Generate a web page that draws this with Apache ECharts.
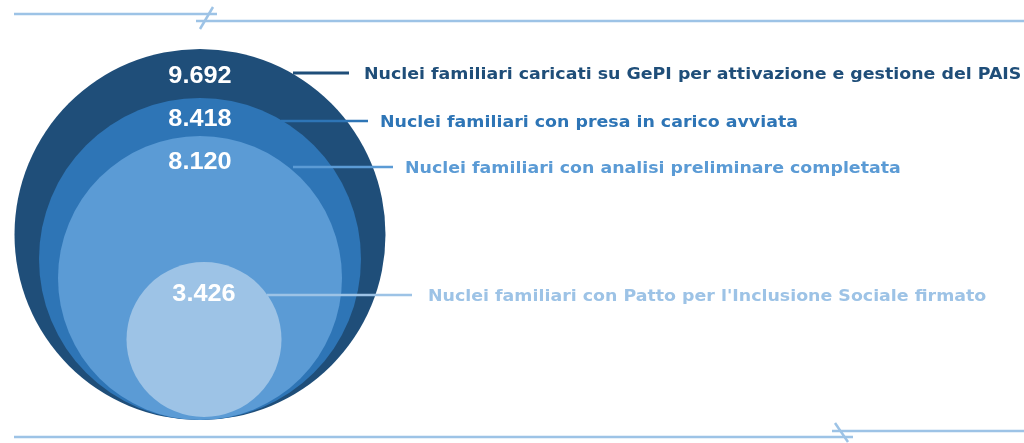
<!DOCTYPE html>
<html>
<head>
<meta charset="utf-8">
<title>Nuclei familiari</title>
<script src="https://cdn.jsdelivr.net/npm/echarts@6/dist/echarts.min.js"></script>
<style>
  html, body { margin: 0; padding: 0; background: #fff; }
  #chart { width: 1024px; height: 443px; }
</style>
</head>
<body>
<div id="chart"></div>
<script>
// dati: nuclei familiari per fase
var values = [9692, 8418, 8120, 3426];
var labels = [
  "Nuclei familiari caricati su GePI per attivazione e gestione del PAIS",
  "Nuclei familiari con presa in carico avviata",
  "Nuclei familiari con analisi preliminare completata",
  "Nuclei familiari con Patto per l'Inclusione Sociale firmato"
];

// stile / layout (pixel)
var colors = ["#1f4e79", "#2e75b6", "#5b9bd5", "#9dc3e6"];
var radius = [185.5, 161, 142, 77.5];
var base = [200, 420];          // punto in basso comune ai cerchi
var shiftX = [0, 0, 0, 4];
var lift = [0, 0, 0, 3];
var numOffset = [27.5, 22, 27, 32.5]; // distanza del numero dal bordo alto
var lineY = [73, 121, 167, 295];
var lineX0 = [293, 281, 293, 267];
var lineX1 = [349, 368, 393, 412];
var textX = [364, 380, 405, 428];
var TEXT_STRETCH = 1.16; // il testo originale e' molto spaziato
var NUM_STRETCH = 1.1;
var LINE_COLOR = "#9dc3e6";

// 9692 -> "9.692"
function fmt(v) {
  return String(v).replace(/\B(?=(\d{3})+(?!\d))/g, ".");
}

function ringCenter(api, i) {
  var r = radius[i];
  return api.coord([base[0] + shiftX[i], base[1] - lift[i] - r]);
}

var chart = echarts.init(document.getElementById("chart"), null, { renderer: "canvas" });

var data = values.map(function (v, i) { return [i, v]; });

chart.setOption({
  animation: false,
  grid: { left: 0, right: 0, top: 0, bottom: 0 },
  xAxis: { type: "value", min: 0, max: 1024, show: false },
  yAxis: { type: "value", min: 0, max: 443, inverse: true, show: false },
  graphic: [
    // linee decorative in alto
    { type: "line", shape: { x1: 14, y1: 14, x2: 217, y2: 14 }, style: { stroke: LINE_COLOR, lineWidth: 2.5 } },
    { type: "line", shape: { x1: 196, y1: 21, x2: 1024, y2: 21 }, style: { stroke: LINE_COLOR, lineWidth: 2.5 } },
    { type: "line", shape: { x1: 200, y1: 29, x2: 213, y2: 7 }, style: { stroke: LINE_COLOR, lineWidth: 2.5 } },
    // linee decorative in basso
    { type: "line", shape: { x1: 14, y1: 437, x2: 853, y2: 437 }, style: { stroke: LINE_COLOR, lineWidth: 2.5 } },
    { type: "line", shape: { x1: 832, y1: 431, x2: 1024, y2: 431 }, style: { stroke: LINE_COLOR, lineWidth: 2.5 } },
    { type: "line", shape: { x1: 835, y1: 423, x2: 848, y2: 442 }, style: { stroke: LINE_COLOR, lineWidth: 2.5 } }
  ],
  series: [
    {
      // cerchi
      type: "custom",
      coordinateSystem: "cartesian2d",
      z: 2,
      data: data,
      renderItem: function (params, api) {
        var i = api.value(0);
        var c = ringCenter(api, i);
        return {
          type: "circle",
          shape: { cx: c[0], cy: c[1], r: radius[i] },
          style: { fill: colors[i] }
        };
      }
    },
    {
      // numeri, linee guida, etichette
      type: "custom",
      coordinateSystem: "cartesian2d",
      z: 3,
      data: data,
      renderItem: function (params, api) {
        var i = api.value(0);
        var v = api.value(1);
        var c = ringCenter(api, i);
        var top = c[1] - radius[i];
        return {
          type: "group",
          children: [
            {
              type: "line",
              shape: { x1: lineX0[i], y1: lineY[i], x2: lineX1[i], y2: lineY[i] },
              style: { stroke: colors[i], lineWidth: i === 0 ? 3 : 2.5 }
            },
            {
              type: "text",
              x: c[0],
              y: top + numOffset[i],
              scaleX: NUM_STRETCH,
              style: {
                text: fmt(v),
                fill: "#ffffff",
                font: "bold 23px 'Liberation Sans', Arial, sans-serif",
                align: "center",
                verticalAlign: "middle"
              }
            },
            {
              type: "text",
              x: textX[i],
              y: lineY[i] + 2,
              scaleX: TEXT_STRETCH,
              style: {
                text: labels[i],
                fill: colors[i],
                font: "bold 15px 'DejaVu Sans', sans-serif",
                align: "left",
                verticalAlign: "middle"
              }
            }
          ]
        };
      }
    }
  ]
});

window.onresize = function () {
  chart.resize();
};
</script>
</body>
</html>
